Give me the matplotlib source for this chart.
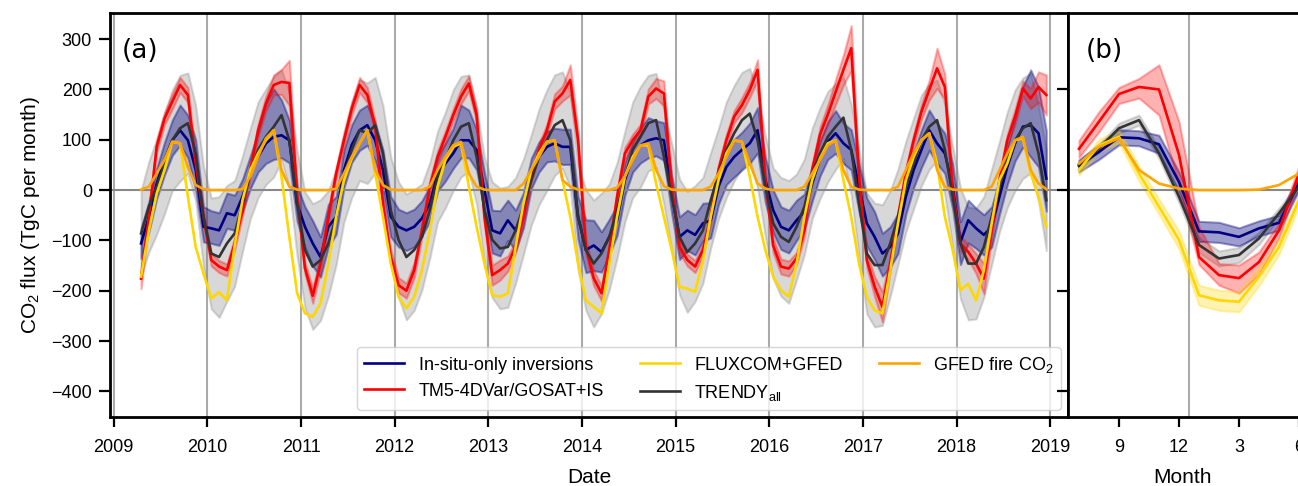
import numpy as np
import matplotlib
matplotlib.use("Agg")
import matplotlib.pyplot as plt

plt.rcParams['font.family'] = ['Liberation Sans', 'DejaVu Sans']
plt.rcParams['mathtext.fontset'] = 'custom'
plt.rcParams['mathtext.rm'] = 'Liberation Sans'
plt.rcParams['mathtext.it'] = 'Liberation Sans:italic'

# monthly fluxes, Apr 2009 .. Dec 2018 (TgC per month)
insitu = [
    -106, -53, 13, 60, 99, 119, 99, 40, -73,                # 2009
    -76, -80, -46, -50, -13, 33, 66, 93, 106, 109, 99, -27,  # 2010
    -73, -106, -133, -73, -53, 40, 90, 119, 129, 99, 40, -53,
    -73, -80, -73, -56, -27, 33, 53, 73, 99, 99, 80, 0,
    -80, -86, -60, -80, -40, 33, 66, 86, 93, 86, 86, -53,
    -119, -110, -123, -93, -60, 20, 66, 89, 99, 103, 99, -7,
    -93, -80, -89, -66, -60, 7, 46, 66, 80, 93, 119, 20,
    -40, -73, -80, -60, -43, 13, 63, 96, 113, 93, 80, 7,
    -66, -93, -126, -113, -86, -13, 40, 80, 119, 93, 73, 7,
    -103, -60, -76, -89, -73, -13, 46, 93, 126, 129, 113, 23,
]
insitu_up = [
    30, 30, 30, 35, 40, 50, 50, 60, 40,
    35, 35, 40, 40, 35, 35, 50, 80, 95, 70, 40, 35,
    40, 45, 40, 45, 40, 40, 40, 40, 40, 35, 40, 40,
    35, 35, 35, 35, 35, 35, 40, 50, 70, 60, 40, 35,
    40, 45, 40, 40, 35, 30, 30, 30, 30, 35, 35, 40,
    60, 50, 40, 35, 30, 35, 30, 35, 45, 35, 35, 35,
    40, 40, 40, 40, 35, 40, 40, 35, 35, 40, 45, 45,
    40, 40, 40, 40, 35, 35, 35, 40, 45, 40, 40, 45,
    50, 50, 40, 40, 40, 35, 35, 40, 40, 40, 40, 45,
    40, 40, 40, 40, 40, 35, 40, 50, 80, 110, 92, 95,
]
insitu_dn = [
    30, 30, 30, 30, 30, 30, 35, 40, 30,
    30, 30, 30, 30, 30, 30, 30, 40, 45, 45, 45, 35,
    40, 45, 40, 40, 35, 35, 35, 40, 40, 40, 40, 40,
    40, 40, 40, 35, 35, 35, 35, 30, 35, 35, 40, 40,
    45, 45, 40, 40, 35, 30, 30, 30, 35, 35, 35, 45,
    45, 50, 40, 35, 30, 30, 30, 35, 35, 35, 40, 40,
    45, 40, 40, 35, 35, 35, 35, 40, 40, 40, 45, 45,
    45, 45, 45, 40, 35, 35, 35, 35, 40, 40, 40, 50,
    45, 45, 45, 40, 40, 35, 35, 35, 40, 40, 40, 45,
    45, 45, 40, 40, 40, 35, 35, 35, 40, 63, 67, 65,
]
tm5 = [
    -176, -53, 86, 142, 176, 209, 189, 53, -53,
    -139, -152, -159, -106, -40, 40, 119, 172, 209, 215, 213, -10,
    -155, -210, -146, -53, 33, 99, 162, 209, 189, 126, -27, -133,
    -189, -200, -159, -80, 7, 66, 106, 149, 186, 212, 149, -53,
    -169, -159, -146, -113, -53, 27, 80, 119, 176, 192, 219, 99,
    -113, -175, -205, -119, -13, 73, 99, 119, 186, 202, 192, 7,
    -113, -139, -152, -119, -53, 40, 99, 146, 169, 199, 239, 20,
    -110, -152, -156, -136, -80, 40, 110, 150, 195, 239, 282, 27,
    -139, -192, -232, -146, -53, 33, 99, 156, 199, 242, 205, 0,
    -106, -123, -146, -176, -80, 20, 99, 146, 202, 182, 205, 189,
]
tm5_sd = [
    20, 12, 12, 12, 15, 15, 15, 12, 12,
    12, 12, 12, 12, 12, 12, 12, 15, 20, 25, 45, 15,
    12, 15, 15, 12, 12, 12, 12, 15, 15, 12, 12, 15,
    15, 15, 15, 12, 12, 12, 12, 12, 15, 15, 15, 15,
    20, 20, 15, 12, 12, 12, 12, 12, 15, 15, 30, 20,
    15, 15, 15, 12, 12, 12, 12, 12, 15, 20, 25, 15,
    12, 12, 12, 12, 12, 12, 12, 12, 15, 15, 20, 15,
    15, 15, 15, 12, 12, 12, 15, 20, 25, 30, 45, 20,
    15, 20, 30, 15, 12, 12, 12, 15, 20, 40, 25, 15,
    15, 15, 20, 30, 15, 12, 12, 15, 15, 20, 30, 40,
]
fluxcom = [
    -172, -80, -7, 40, 96, 93, -13, -113, -166,
    -215, -203, -219, -110, -20, 40, 73, 99, 119, 27, -93, -205,
    -245, -252, -225, -146, -53, 20, 63, 93, 119, 33, -53, -146,
    -212, -235, -212, -159, -80, 7, 60, 86, 93, 7, -73, -146,
    -209, -212, -205, -113, -27, 40, 73, 96, 99, 20, -53, -146,
    -219, -232, -245, -146, -53, 27, 66, 89, 89, 13, -53, -119,
    -192, -196, -202, -139, -53, 20, 73, 99, 96, 27, -53, -119,
    -172, -199, -212, -146, -53, 20, 63, 93, 99, 20, -53, -146,
    -212, -239, -245, -159, -66, 20, 66, 99, 113, 53, -53, -119,
    -199, -186, -219, -159, -66, 20, 53, 99, 103, 33, -13, -73,
]
trendy = [
    -86, -33, 7, 53, 99, 123, 133, 73, -53,
    -126, -133, -106, -86, -27, 33, 80, 106, 126, 149, 99, -27,
    -119, -152, -139, -106, -53, 27, 80, 119, 113, 129, 73, -40,
    -99, -133, -119, -93, -40, 27, 60, 99, 126, 133, 66, -40,
    -99, -116, -113, -80, -33, 20, 66, 99, 129, 139, 99, -53,
    -119, -146, -126, -93, -40, 27, 80, 106, 133, 139, 66, -13,
    -93, -123, -106, -80, -20, 33, 80, 113, 139, 152, 99, 7,
    -66, -93, -103, -73, -33, 33, 73, 106, 126, 144, 80, -27,
    -126, -149, -149, -106, -53, 7, 53, 99, 126, 139, 80, -13,
    -106, -146, -146, -113, -53, 7, 60, 99, 123, 133, 73, -20,
]
trendy_sd = [
    85, 90, 95, 100, 100, 105, 100, 95, 100,
    110, 120, 115, 105, 95, 90, 95, 95, 100, 90, 95, 105,
    115, 125, 120, 105, 95, 90, 95, 100, 100, 95, 95, 105,
    115, 125, 120, 105, 95, 90, 95, 100, 100, 96, 95, 105,
    115, 120, 120, 105, 95, 90, 95, 100, 100, 96, 95, 105,
    120, 126, 120, 105, 95, 90, 95, 100, 95, 93, 95, 105,
    115, 120, 115, 105, 95, 90, 95, 95, 95, 90, 95, 100,
    110, 118, 122, 105, 95, 90, 90, 90, 85, 81, 90, 105,
    120, 123, 120, 105, 95, 90, 90, 90, 85, 80, 90, 100,
    110, 112, 110, 100, 95, 90, 95, 100, 100, 99, 95, 100,
]
gfed = [
    1, 7, 33, 60, 96, 93, 46, 10, 2,
    0, 0, 0, 0, 2, 27, 66, 103, 119, 40, 7, 1,
    0, 0, 0, 0, 3, 33, 66, 93, 119, 40, 10, 1,
    0, 0, 0, 0, 7, 40, 66, 89, 96, 33, 7, 1,
    0, 0, 0, 0, 13, 40, 66, 96, 99, 20, 7, 1,
    0, 0, 0, 0, 5, 27, 60, 89, 93, 40, 8, 1,
    0, 0, 0, 0, 7, 33, 66, 99, 96, 53, 13, 3,
    0, 0, 0, 0, 7, 33, 60, 89, 99, 40, 7, 1,
    0, 0, 0, 0, 7, 40, 73, 99, 113, 40, 7, 1,
    0, 0, 0, 0, 7, 40, 73, 99, 106, 40, 13, 2,
]

# mean seasonal cycle, July .. June
month_labels_b = [7, 8, 9, 10, 11, 12, 1, 2, 3, 4, 5, 6]
insitu_b = [48, 76, 105, 103, 91, 16, -82, -84, -93, -76, -65, 15]
insitu_b_sd = [12, 15, 15, 15, 18, 20, 20, 20, 18, 15, 15, 15]
tm5_b = [82, 136, 191, 205, 200, 70, -133, -169, -175, -143, -80, 33]
tm5_b_up = [17, 20, 13, 17, 49, 66, 60, 23, 26, 20, 15, 15]
tm5_b_dn = [17, 20, 19, 22, 51, 60, 15, 20, 30, 25, 15, 15]
fluxcom_b = [40, 89, 106, 33, -33, -99, -209, -219, -222, -172, -113, -20]
fluxcom_b_sd = [10, 12, 12, 15, 15, 18, 20, 20, 20, 18, 15, 12]
trendy_b = [50, 83, 123, 139, 73, -13, -109, -136, -129, -96, -46, 7]
trendy_b_sd = [8, 8, 10, 10, 10, 12, 15, 15, 15, 12, 10, 8]
gfed_b = [53, 86, 103, 40, 13, 3, 0, 0, 0, 1, 10, 33]

C_INSITU = '#000080'
C_TM5 = '#ff0000'
C_FLUX = '#ffd700'
C_TRENDY = '#333333'
C_GFED = '#ffa500'

insitu, insitu_up, insitu_dn = np.array(insitu), np.array(insitu_up), np.array(insitu_dn)
tm5, tm5_sd = np.array(tm5), np.array(tm5_sd)
trendy, trendy_sd = np.array(trendy), np.array(trendy_sd)

t = 2009 + (np.arange(3, 3 + len(insitu)) + 0.5) / 12.0
tb = np.arange(7, 7 + len(month_labels_b))

fig = plt.figure(figsize=(12.98, 4.86), dpi=100)
ax1 = fig.add_axes([110 / 1298, 69 / 486, 958 / 1298, 404 / 486])
ax2 = fig.add_axes([1068 / 1298, 69 / 486, 242 / 1298, 404 / 486])

lw = 1.9
# panel (a)
ax1.fill_between(t, trendy - trendy_sd, trendy + trendy_sd, color='grey', alpha=0.3, lw=1.5)
ax1.fill_between(t, insitu - insitu_dn, insitu + insitu_up, color=C_INSITU, alpha=0.38, lw=1.5)
ax1.fill_between(t, tm5 - tm5_sd, tm5 + tm5_sd, color=C_TM5, alpha=0.3, lw=1.5)
ax1.axhline(0, color='#888888', lw=1.5)
h1, = ax1.plot(t, insitu, color=C_INSITU, lw=lw)
h2, = ax1.plot(t, tm5, color=C_TM5, lw=lw)
h4, = ax1.plot(t, trendy, color=C_TRENDY, lw=lw)
h3, = ax1.plot(t, fluxcom, color=C_FLUX, lw=lw)
h5, = ax1.plot(t, gfed, color=C_GFED, lw=lw)

ax1.set_xlim(2008.96, 2019.19)
ax1.set_ylim(-451, 352)
ax1.set_xticks(range(2009, 2020))
ax1.set_yticks(range(-400, 301, 100))
ax1.grid(axis='x', color='#aaaaaa', lw=1.5)
ax1.set_axisbelow(True)
ax1.set_xlabel('Date', fontsize=15)
ax1.xaxis.set_label_coords(0.5, -0.125)
ax1.set_ylabel('CO$_2$ flux (TgC per month)', fontsize=15)
ax1.yaxis.set_label_coords(-0.071, 0.5)
ax1.text(0.012, 0.905, '(a)', transform=ax1.transAxes, fontsize=19,
         family='DejaVu Sans', ha='left', va='center')

ax1.legend([h1, h2, h3, h4, h5],
           ['In-situ-only inversions', 'TM5-4DVar/GOSAT+IS', 'FLUXCOM+GFED',
            'TRENDY$_{\\mathrm{all}}$', 'GFED fire CO$_2$'],
           ncol=3, loc='lower right', fontsize=13, borderaxespad=0.4,
           handlelength=2.2)

# panel (b)
tm5_b, tm5_b_up, tm5_b_dn = np.array(tm5_b), np.array(tm5_b_up), np.array(tm5_b_dn)
ax2.fill_between(tb, np.array(trendy_b) - trendy_b_sd, np.array(trendy_b) + trendy_b_sd,
                 color='grey', alpha=0.3, lw=1.5)
ax2.fill_between(tb, np.array(insitu_b) - insitu_b_sd, np.array(insitu_b) + insitu_b_sd,
                 color=C_INSITU, alpha=0.38, lw=1.5)
ax2.fill_between(tb, tm5_b - tm5_b_dn, tm5_b + tm5_b_up, color=C_TM5, alpha=0.3, lw=1.5)
ax2.fill_between(tb, np.array(fluxcom_b) - fluxcom_b_sd, np.array(fluxcom_b) + fluxcom_b_sd,
                 color=C_FLUX, alpha=0.3, lw=1.5)
ax2.axhline(0, color='#888888', lw=1.5)
ax2.axvline(12.5, color='#aaaaaa', lw=1.5, zorder=0.5)
ax2.plot(tb, insitu_b, color=C_INSITU, lw=lw)
ax2.plot(tb, tm5_b, color=C_TM5, lw=lw)
ax2.plot(tb, trendy_b, color=C_TRENDY, lw=lw)
ax2.plot(tb, fluxcom_b, color=C_FLUX, lw=lw)
ax2.plot(tb, gfed_b, color=C_GFED, lw=lw)

ax2.set_xlim(6.45, 18.55)
ax2.set_ylim(-451, 352)
ax2.set_xticks([9, 12, 15, 18])
ax2.set_xticklabels([str(month_labels_b[i - 7]) for i in [9, 12, 15, 18]])
ax2.set_yticks([-400, -200, 0, 200])
ax2.tick_params(axis='y', labelleft=False)
ax2.set_xlabel('Month', fontsize=15)
ax2.xaxis.set_label_coords(0.475, -0.125)
ax2.text(0.075, 0.905, '(b)', transform=ax2.transAxes, fontsize=19,
         family='DejaVu Sans', ha='left', va='center')

for ax in (ax1, ax2):
    for s in ax.spines.values():
        s.set_linewidth(2)
    ax.tick_params(axis='both', labelsize=13, width=1.6)
    ax.tick_params(axis='y', length=8, pad=5)
    ax.tick_params(axis='x', length=7, pad=9)

fig.savefig('out.png', dpi=100)
